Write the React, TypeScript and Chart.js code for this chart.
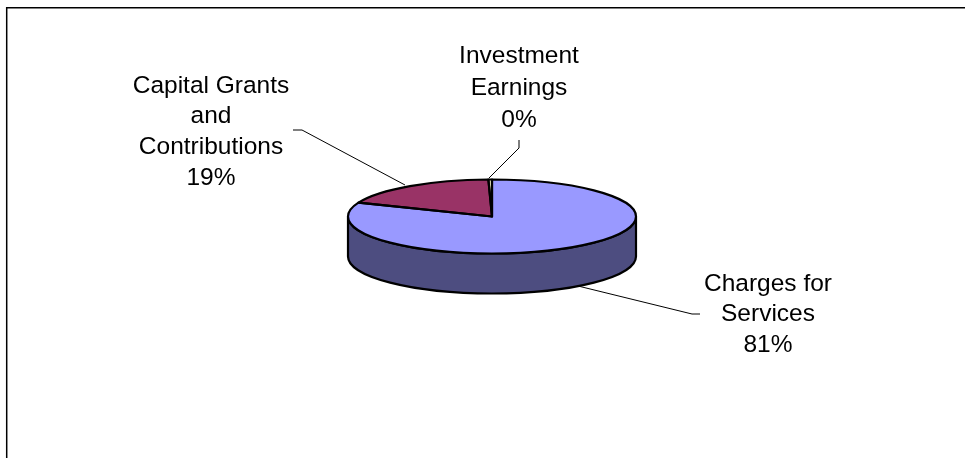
import React, { useEffect, useRef } from "react";
import { Chart, registerables } from "chart.js";

Chart.register(...registerables);

const categories = ["Charges for Services", "Capital Grants and Contributions", "Investment Earnings"];
const values = [81.1, 18.5, 0.4];
const labelLines = [["Charges for", "Services"], ["Capital Grants", "and", "Contributions"], ["Investment", "Earnings"]];
const topColors = ["#9999FF", "#993366", "#FFFFCC"];
const wallColors = ["#4D4D80", "#4D1A33", "#808066"];

const W = 965;
const H = 458;
const CX = 492;
const CY = 216.5;
const RX = 144;
const RY = 37;
const DEPTH = 40;
const LINE = 2.2;
const FONT_PX = 24.5;
const labelCenters = [[768, 284], [211, 86], [519, 56]];
const labelSpacing = [30.5, 30.7, 32];
const leaders = [
  [[700, 314], [692, 314], [578, 286]],
  [[293, 130], [302, 130], [405, 185]],
  [[519, 140], [519, 148], [489, 178]],
];

const piePlugin = {
  id: "pie3d",
  beforeDatasetDraw(chart: any) {
    const ctx = chart.ctx;
    const arcs = chart.getDatasetMeta(0).data;
    ctx.save();
    ctx.lineWidth = LINE;
    ctx.strokeStyle = "#000";
    arcs.forEach((a: any, i: number) => {
      const s = a.startAngle;
      const e = a.endAngle;
      for (const k of [0, 1, -1]) {
        const lo = Math.max(s + k * 2 * Math.PI, 0);
        const hi = Math.min(e + k * 2 * Math.PI, Math.PI);
        if (hi <= lo) continue;
        ctx.beginPath();
        ctx.ellipse(CX, CY, RX, RY, 0, lo, hi);
        ctx.ellipse(CX, CY + DEPTH, RX, RY, 0, hi, lo, true);
        ctx.closePath();
        ctx.fillStyle = wallColors[i];
        ctx.fill();
        ctx.stroke();
      }
    });
    ctx.restore();
    ctx.save();
    ctx.translate(CX, CY);
    ctx.scale(1, RY / RX);
    ctx.translate(-CX, -CY);
  },
  afterDatasetDraw(chart: any) {
    const ctx = chart.ctx;
    ctx.restore();
    const arcs = chart.getDatasetMeta(0).data;
    ctx.save();
    ctx.lineWidth = LINE;
    ctx.lineJoin = "round";
    ctx.strokeStyle = "#000";
    arcs.forEach((a: any) => {
      ctx.beginPath();
      ctx.moveTo(CX, CY);
      ctx.ellipse(CX, CY, RX, RY, 0, a.startAngle, a.endAngle);
      ctx.closePath();
      ctx.stroke();
    });
    ctx.restore();
  },
  afterDraw(chart: any) {
    const ctx = chart.ctx;
    ctx.save();
    ctx.strokeStyle = "#000";
    ctx.lineWidth = 1.5;
    ctx.beginPath();
    ctx.moveTo(6.7, H);
    ctx.lineTo(6.7, 7.75);
    ctx.lineTo(W, 7.75);
    ctx.stroke();
    ctx.lineWidth = 1;
    leaders.forEach((pts) => {
      ctx.beginPath();
      pts.forEach((p, i) => (i ? ctx.lineTo(p[0], p[1]) : ctx.moveTo(p[0], p[1])));
      ctx.stroke();
    });
    ctx.fillStyle = "#000";
    ctx.font = `${FONT_PX}px "Liberation Sans"`;
    ctx.textAlign = "center";
    ctx.textBaseline = "middle";
    const total = values.reduce((x, y) => x + y, 0);
    labelLines.forEach((lines, i) => {
      const all = [...lines, `${Math.round((values[i] / total) * 100)}%`];
      all.forEach((t, j) => ctx.fillText(t, labelCenters[i][0], labelCenters[i][1] + j * labelSpacing[i]));
    });
    ctx.restore();
  },
};

export default function App() {
  const ref = useRef<HTMLCanvasElement>(null);
  useEffect(() => {
    document.body.style.margin = "0";
    document.body.style.background = "#fff";
    const chart = new Chart(ref.current!, {
      type: "pie",
      data: {
        labels: categories,
        datasets: [{ data: values, backgroundColor: topColors, borderWidth: 0, clip: false } as any],
      },
      options: {
        responsive: false,
        animation: false,
        devicePixelRatio: 1,
        layout: { padding: { left: CX - RX, right: W - CX - RX, top: CY - RX, bottom: H - CY - RX } },
        plugins: { legend: { display: false }, tooltip: { enabled: false } },
      },
      plugins: [piePlugin],
    } as any);
    return () => chart.destroy();
  }, []);
  return <canvas ref={ref} width={W} height={H} style={{ display: "block", width: W, height: H }} />;
}
